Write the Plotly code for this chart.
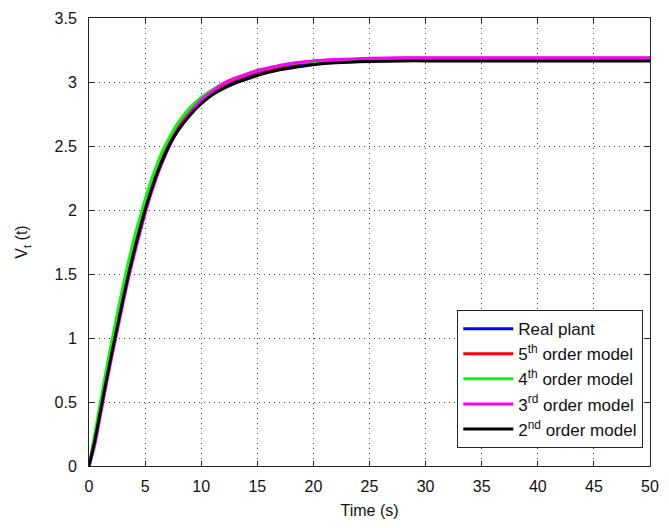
import plotly.graph_objects as go

# Time samples (s)
t = [0, 0.5, 1, 1.5, 2, 2.5, 3, 3.5, 4, 4.5, 5, 5.5, 6, 6.5, 7, 7.5, 8, 9, 10,
     11, 12, 13, 14, 15, 16, 17, 18, 20, 22, 25, 28, 30, 35, 40, 45, 50]

real_plant = [0, 0.18, 0.41, 0.64, 0.86, 1.07, 1.28, 1.48, 1.66, 1.83, 1.99, 2.13, 2.26, 2.37, 2.47, 2.56, 2.63, 2.75, 2.84,
              2.91, 2.96, 3.00, 3.04, 3.07, 3.09, 3.11, 3.13, 3.15, 3.165, 3.175, 3.18, 3.18, 3.18, 3.18, 3.18, 3.18]
order5 = [0, 0.20, 0.44, 0.67, 0.89, 1.11, 1.32, 1.52, 1.70, 1.87, 2.03, 2.17, 2.30, 2.41, 2.51, 2.59, 2.66, 2.77, 2.86,
          2.93, 2.98, 3.02, 3.05, 3.08, 3.10, 3.12, 3.14, 3.16, 3.17, 3.18, 3.185, 3.185, 3.185, 3.185, 3.185, 3.185]
order4 = [0, 0.24, 0.49, 0.73, 0.96, 1.18, 1.39, 1.59, 1.77, 1.93, 2.08, 2.22, 2.34, 2.45, 2.54, 2.62, 2.69, 2.80, 2.88,
          2.94, 2.99, 3.03, 3.06, 3.09, 3.11, 3.13, 3.145, 3.16, 3.17, 3.18, 3.185, 3.185, 3.185, 3.185, 3.185, 3.185]
order3 = [0, 0.16, 0.39, 0.62, 0.84, 1.05, 1.26, 1.46, 1.64, 1.81, 1.97, 2.12, 2.25, 2.37, 2.47, 2.56, 2.64, 2.76, 2.86,
          2.93, 2.99, 3.03, 3.06, 3.09, 3.11, 3.13, 3.145, 3.165, 3.175, 3.185, 3.19, 3.19, 3.19, 3.19, 3.19, 3.19]
order2 = [0, 0.19, 0.42, 0.65, 0.87, 1.08, 1.29, 1.49, 1.67, 1.84, 2.00, 2.14, 2.27, 2.38, 2.48, 2.56, 2.63, 2.74, 2.83,
          2.90, 2.95, 2.99, 3.02, 3.05, 3.075, 3.095, 3.11, 3.135, 3.15, 3.16, 3.165, 3.165, 3.165, 3.165, 3.165, 3.165]

names = ["Real plant", "5<sup>th</sup> order model", "4<sup>th</sup> order model",
         "3<sup>rd</sup> order model", "2<sup>nd</sup> order model"]
series = [real_plant, order5, order4, order3, order2]
colors = ["#0000ff", "#ff0000", "#00ff00", "#ff00ff", "#000000"]

x_ticks = [0, 5, 10, 15, 20, 25, 30, 35, 40, 45, 50]
y_ticks = [0, 0.5, 1, 1.5, 2, 2.5, 3, 3.5]
y_tick_text = ["0", "0.5", "1", "1.5", "2", "2.5", "3", "3.5"]

fig = go.Figure()
for name, ys, c in zip(names, series, colors):
    fig.add_trace(go.Scatter(x=t, y=ys, mode="lines", name=name,
                             line=dict(color=c, width=3, shape="spline", smoothing=0.6)))

font = "Liberation Sans, Arial, sans-serif"
axis_common = dict(showline=True, linecolor="#222", linewidth=1, mirror="ticks",
                   ticks="inside", ticklen=5, tickcolor="#222",
                   showgrid=True, gridcolor="#444", griddash="1px,4px", gridwidth=1,
                   zeroline=False, tickfont=dict(family=font, size=16, color="#111"))

fig.update_layout(
    width=669, height=528,
    margin=dict(l=89, r=10, t=15, b=62),
    paper_bgcolor="white", plot_bgcolor="white",
    font=dict(family=font, size=16, color="#111"),
    xaxis=dict(range=[0, 50], tickvals=x_ticks, ticklabelstandoff=6,
               title=dict(text="Time (s)", font=dict(family=font, size=16), standoff=10),
               **axis_common),
    yaxis=dict(range=[0, 3.5], tickvals=y_ticks, ticktext=y_tick_text, ticklabelstandoff=8,
               title=dict(text="V<sub>t</sub> (t)", font=dict(family=font, size=16), standoff=22),
               **axis_common),
    legend=dict(x=0.988, y=0.04, xanchor="right", yanchor="bottom",
                bgcolor="white", bordercolor="#222", borderwidth=1,
                font=dict(family=font, size=17, color="#111"),
                itemwidth=50, tracegroupgap=0),
    showlegend=True,
)

fig.write_html("out.html")
